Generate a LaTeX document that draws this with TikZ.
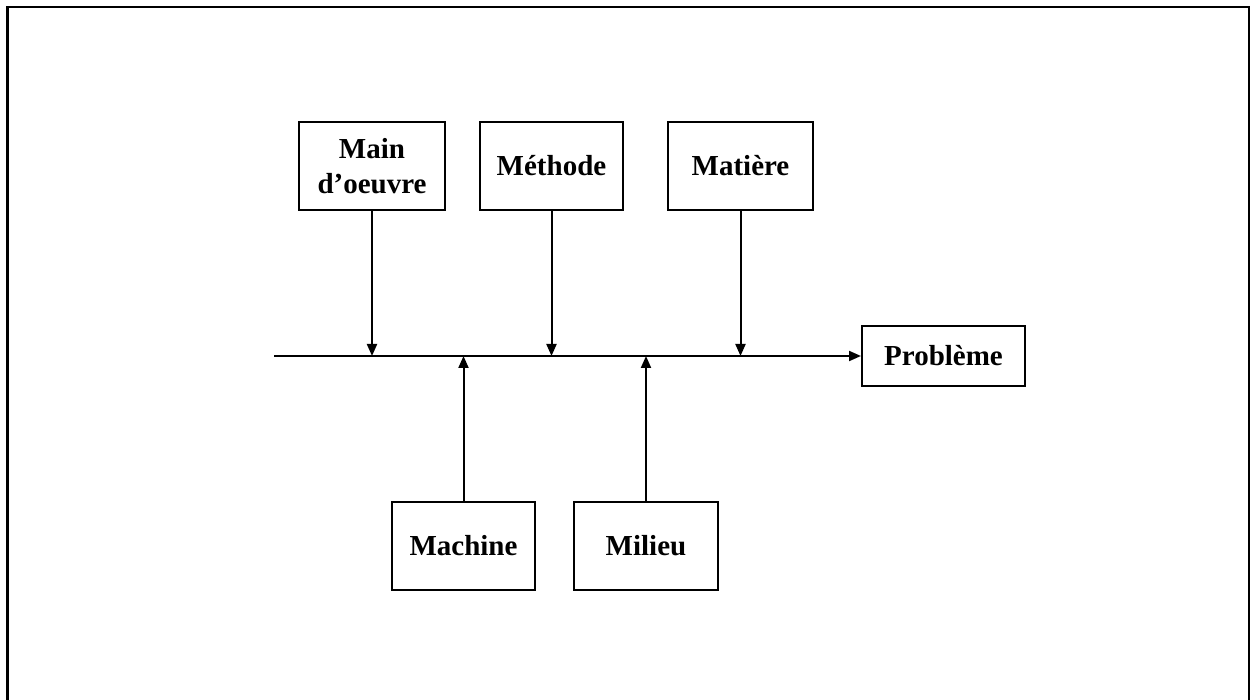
\documentclass[tikz,border=0pt]{standalone}
\usepackage{fontspec}
\setmainfont{Liberation Serif}
\usetikzlibrary{arrows.meta}
\begin{document}
\begin{tikzpicture}[x=1pt,y=-1pt,
  cause/.style={draw,line width=2pt,minimum width=143pt,minimum height=88pt,
    inner sep=0pt,align=center,font=\fontsize{29}{35}\selectfont\bfseries},
  link/.style={line width=2pt,-{Triangle[width=10pt,length=12pt]}}]
\useasboundingbox (0,0) rectangle (1251,700);
% page frame, open at the bottom
\draw[line width=2.5pt] (7.5,702) -- (7.5,7) -- (1249,7) -- (1249,702);

% causes above the axis
\node[cause,minimum width=146pt] (main) at (372,166) {Main\\d’oeuvre};
\node[cause] (methode) at (551.5,166) {Méthode};
\node[cause,minimum width=145pt] (matiere) at (740.5,166) {Matière};
% causes below the axis
\node[cause] (machine) at (463.5,546) {Machine};
\node[cause,minimum width=144pt] (milieu) at (646,546) {Milieu};
% effect
\node[cause,minimum width=163pt,minimum height=60pt] (probleme) at (943.5,356) {Problème};

% main axis
\coordinate (start) at (274,356);
\draw[link] (start) -- (probleme.west);

% arrows onto the axis
\draw[link] (main.south) -- (main.south |- start);
\draw[link] (methode.south) -- (methode.south |- start);
\draw[link] (matiere.south) -- (matiere.south |- start);
\draw[link] (machine.north) -- (machine.north |- start);
\draw[link] (milieu.north) -- (milieu.north |- start);
\end{tikzpicture}
\end{document}
